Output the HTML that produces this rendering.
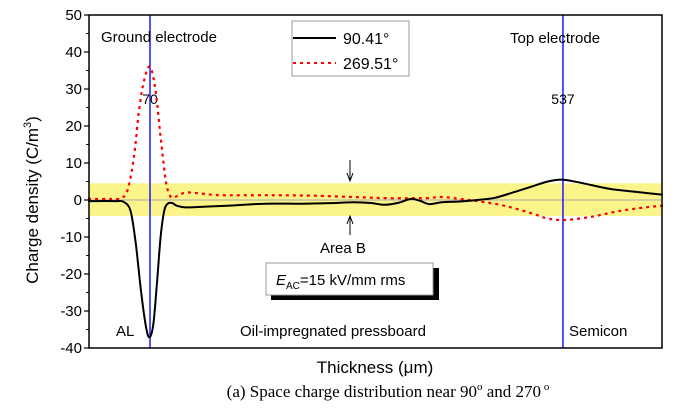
<!DOCTYPE html>
<html><head><meta charset="utf-8">
<style>
body{margin:0;background:#fff;}
svg{display:block;font-family:"Liberation Sans",sans-serif;}
</style></head>
<body>
<svg id="chart" width="700" height="409" viewBox="0 0 700 409" xmlns="http://www.w3.org/2000/svg">
<g id="marks"></g>
</svg>
<script>
const yTicks=[50,40,30,20,10,0,-10,-20,-30,-40];
const blackX=[0,30,40,48,54,60,66,70,74,78,82,86,90,95,100,110,130,160,200,240,280,300,320,335,350,365,375,386,400,420,440,460,480,500,520,537,560,590,620,650];
const blackY=[-0.3,-0.3,-0.5,-3,-12,-25,-35,-37,-33,-22,-10,-3,-1,-0.8,-1.5,-2,-1.8,-1.5,-1.0,-1.0,-0.8,-0.6,-0.8,-1.3,-0.8,0.3,-0.2,-1.1,-0.6,-0.4,0,0.6,2,3.5,5,5.5,4.5,3,2.2,1.4];
const redX=[0,30,38,45,52,58,64,70,76,82,88,93,98,110,125,150,200,250,300,340,380,400,420,440,470,500,520,540,570,600,630,650];
const redY=[0.3,0.3,0.5,3,12,25,33,36,30,17,5,1,0.8,2,1.8,1.3,1.3,1.2,0.8,0.5,0.5,0.8,0.3,-0.3,-1.5,-3.5,-5,-5.4,-4.5,-3,-2,-1.5];
const electrodes=[70,537];

const L=89,R=662,T=15,B=348;
const xMin=1,xMax=649,yMin=-40,yMax=50;
const sx=d=>L+(d-xMin)/(xMax-xMin)*(R-L);
const sy=v=>B-(v-yMin)/(yMax-yMin)*(B-T);
const NS="http://www.w3.org/2000/svg";
const svg=document.getElementById('chart');
function mk(tag,attrs,parent){const e=document.createElementNS(NS,tag);for(const k in attrs)e.setAttribute(k,attrs[k]);(parent||svg).appendChild(e);return e;}

const band=mk('rect',{x:L+1,y:sy(4.5),width:R-L-2,height:sy(-4.3)-sy(4.5),fill:'#fbf48a'});


const zl=mk('line',{x1:L,x2:R,y1:sy(0),y2:sy(0),stroke:'#aaa','stroke-width':1});



electrodes.forEach((d,i)=>{
  const l=mk('line',{x1:sx(d),x2:sx(d),y1:T,y2:B,stroke:'#1a1aff','stroke-width':1.5});
  
  
  const t=mk('text',{x:sx(d),y:104,'font-size':14,'text-anchor':'middle',fill:'#000'});
  t.textContent=String(d);
  
  
});

function path(xs,ys){
  const p=xs.map((d,i)=>[sx(d),sy(ys[i])]);
  let s='M'+p[0][0].toFixed(1)+','+p[0][1].toFixed(1);
  for(let i=0;i<p.length-1;i++){
    const p0=p[i-1]||p[i],p1=p[i],p2=p[i+1],p3=p[i+2]||p2;
    const c1=[p1[0]+(p2[0]-p0[0])/6,p1[1]+(p2[1]-p0[1])/6];
    const c2=[p2[0]-(p3[0]-p1[0])/6,p2[1]-(p3[1]-p1[1])/6];
    s+=' C'+c1.map(v=>v.toFixed(1)).join(',')+' '+c2.map(v=>v.toFixed(1)).join(',')+' '+p2.map(v=>v.toFixed(1)).join(',');
  }
  return s;
}
const red=mk('path',{d:path(redX,redY),fill:'none',stroke:'#f00','stroke-width':2.2,'stroke-dasharray':'3,4'});


const blk=mk('path',{d:path(blackX,blackY),fill:'none',stroke:'#000','stroke-width':2});



const fr=mk('rect',{x:L,y:T,width:R-L,height:B-T,fill:'none',stroke:'#000','stroke-width':1.5});



yTicks.forEach(v=>{
  const tk=mk('line',{x1:L-5,x2:L,y1:sy(v),y2:sy(v),stroke:'#000','stroke-width':1.2});
  
  
  if(v>yMin){const m=mk('line',{x1:L-3,x2:L,y1:sy(v-5),y2:sy(v-5),stroke:'#000','stroke-width':1});
  
  }
  const t=mk('text',{x:L-7,y:sy(v)+5,'font-size':15,'text-anchor':'end',fill:'#000'});
  t.textContent=String(v);
  
  
});
</script>
<svg style="position:absolute;left:0;top:0" width="700" height="409" font-family="Liberation Sans, sans-serif">
<text transform="translate(38,200) rotate(-90)" font-size="17" text-anchor="middle">Charge density (C/m<tspan font-size="11" dy="-7">3</tspan><tspan dy="7">)</tspan></text>
<text x="375" y="373" font-size="17" text-anchor="middle">Thickness (μm)</text>
<text x="388" y="397" font-size="17" text-anchor="middle" font-family="Liberation Serif, serif">(a) Space charge distribution near 90<tspan font-size="11" dy="-7">o</tspan><tspan dy="7"> and 270</tspan><tspan font-size="11" dy="-7"> o</tspan></text>
<text x="101" y="42" font-size="15">Ground electrode</text>
<text x="510" y="43" font-size="15">Top electrode</text>
<g>
<rect x="292" y="21" width="117" height="55" fill="#fff" stroke="#999"/>
<line x1="293" x2="336" y1="38" y2="38" stroke="#000" stroke-width="2"/>
<text x="343" y="44" font-size="16">90.41°</text>
<line x1="293" x2="336" y1="63" y2="63" stroke="#f00" stroke-width="2" stroke-dasharray="3,4"/>
<text x="343" y="69" font-size="16">269.51°</text>
</g>
<g>
<line x1="350" x2="350" y1="160" y2="180" stroke="#000"/><path d="M347,173 L350,181 L353,173" fill="none" stroke="#000"/>
<line x1="350" x2="350" y1="235" y2="217" stroke="#000"/><path d="M347,224 L350,216 L353,224" fill="none" stroke="#000"/>
</g>
<text x="320" y="253" font-size="15">Area B</text>
<g>
<rect x="271" y="268" width="168" height="32" fill="#000"/>
<rect x="266" y="263" width="167" height="32" fill="#fff" stroke="#999"/>
<text x="276" y="285" font-size="15"><tspan font-style="italic">E</tspan><tspan font-size="10" dy="4">AC</tspan><tspan dy="-4">=15 kV/mm rms</tspan></text>
</g>
<text x="116" y="336" font-size="15">AL</text>
<text x="240" y="336" font-size="15">Oil-impregnated pressboard</text>
<text x="569" y="336" font-size="15">Semicon</text>
</svg>
</body></html>
